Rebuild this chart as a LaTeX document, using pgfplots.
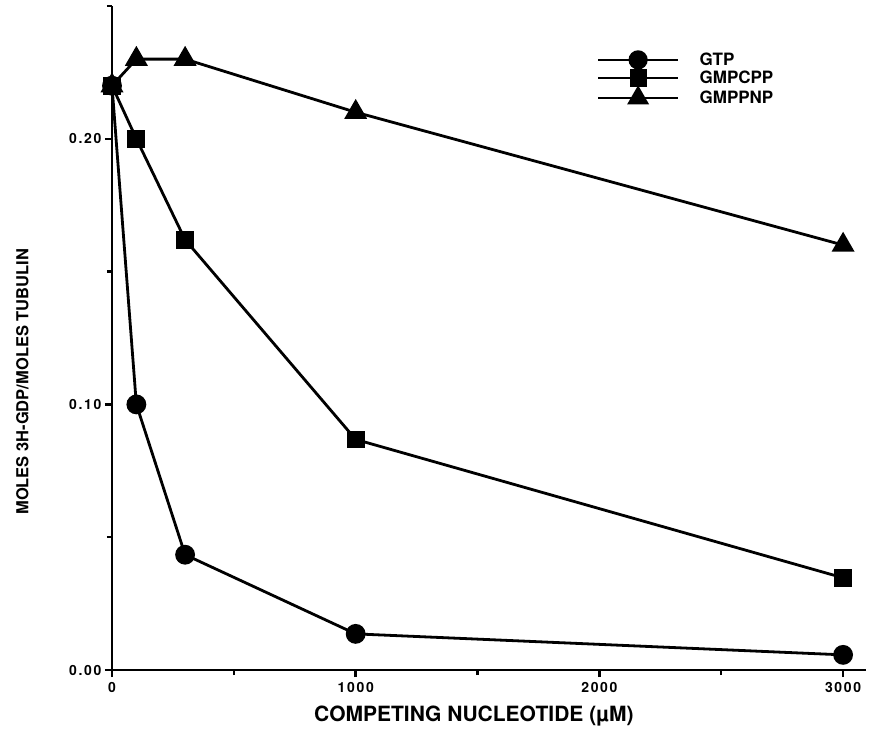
\documentclass[border=0pt]{standalone}
\usepackage{pgfplots}
\pgfplotsset{compat=1.18}
\usepackage{fontspec}
\setmainfont{TeX Gyre Heros}
\newfontfamily\tickfont[LetterSpace=12]{TeX Gyre Heros}
\begin{document}
\begin{tikzpicture}
\begin{axis}[
  name=ax,
  at={(0,0)}, anchor=south west,
  scale only axis,
  width=754bp, height=664bp,
  xmin=0, xmax=3094, ymin=0, ymax=0.25,
  axis x line=bottom, axis y line=left,
  axis line style={-, line width=2.6bp},
  every tick/.style={black, line width=2.4bp},
  tick align=outside,
  major tick length=7bp, minor tick length=5bp,
  xtick={0,1000,2000,3000},
  minor xtick={500,1500,2500},
  ytick={0,0.1,0.2},
  minor ytick={0.05,0.15,0.25},
  /pgf/number format/assume math mode=true,
  xticklabel style={font=\tickfont\bfseries\fontsize{14bp}{16bp}\selectfont, /pgf/number format/set thousands separator={}, yshift=-2bp},
  yticklabel style={font=\tickfont\bfseries\fontsize{14bp}{16bp}\selectfont, /pgf/number format/fixed, /pgf/number format/fixed zerofill, /pgf/number format/precision=2},
  scaled y ticks=false,
  xlabel={COMPETING NUCLEOTIDE (\textmu M)},
  ylabel={MOLES 3H-GDP/MOLES TUBULIN},
  xlabel style={font=\bfseries\fontsize{21bp}{24bp}\selectfont, at={(axis description cs:0.48,-0.078)}, anchor=base},
  ylabel style={font=\bfseries\fontsize{16.5bp}{19bp}\selectfont, at={(axis description cs:-0.119,0.434)}, anchor=center},
  clip=false,
  legend cell align=left,
  legend style={draw=none, fill=none, at={(rel axis cs:0.643,0.932)}, anchor=north west, inner sep=0pt,
    font=\bfseries\fontsize{17bp}{19bp}\selectfont,
    row sep=1bp, nodes={inner sep=1.5bp}},
  legend image code/.code={\path[draw=none] (0bp,0bp) -- (100bp,0bp); \draw[#1, line width=2.2bp, mark repeat=2, mark phase=2] plot coordinates {(0bp,0bp) (40bp,0bp) (80bp,0bp)};},
  every axis plot/.append style={black, line width=2.8bp},
]
\addplot[mark=*, mark size=8.5bp, mark options={solid}] coordinates {
  (0,0.220) (100,0.100) (300,0.0434) (1000,0.0136) (3000,0.0057)
};
\addlegendentry{GTP}
\addplot[mark=square*, mark size=7.5bp] coordinates {
  (0,0.220) (100,0.200) (300,0.162) (1000,0.0868) (3000,0.0347)
};
\addlegendentry{GMPCPP}
\addplot[mark=triangle*, mark size=10.5bp] coordinates {
  (0,0.220) (100,0.230) (300,0.230) (1000,0.210) (3000,0.160)
};
\addlegendentry{GMPPNP}
\end{axis}
\pgfresetboundingbox
\path[use as bounding box] (-112bp,-63bp) rectangle (761bp,670bp);
\end{tikzpicture}
\end{document}
